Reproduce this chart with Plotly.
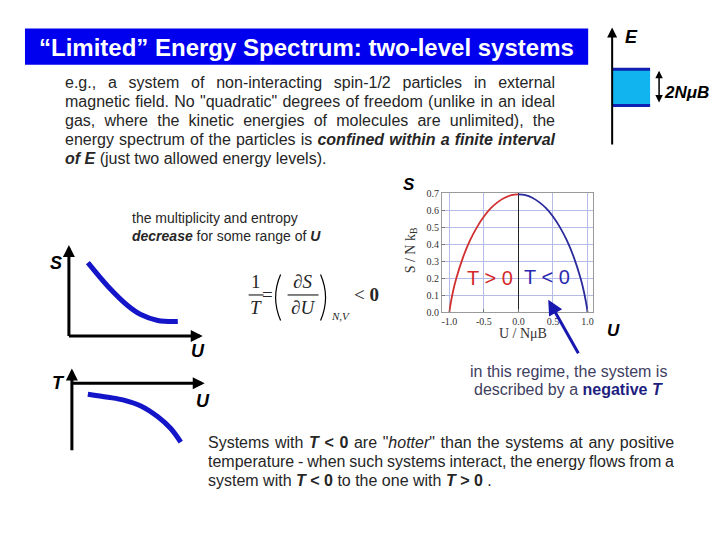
import re
import plotly.graph_objects as go

W, H = 720, 540

# ---------------- data ----------------
entropy_u_pos = [-1.0, -0.99, -0.95, -0.9, -0.8, -0.7, -0.6, -0.5, -0.4, -0.3, -0.2, -0.1, 0.0]
entropy_s_pos = [0.0, 0.031, 0.117, 0.199, 0.325, 0.423, 0.500, 0.562, 0.611, 0.647, 0.673, 0.688, 0.693]
entropy_u_neg = [0.0, 0.1, 0.2, 0.3, 0.4, 0.5, 0.6, 0.7, 0.8, 0.9, 0.95, 0.99, 1.0]
entropy_s_neg = [0.693, 0.688, 0.673, 0.647, 0.611, 0.562, 0.500, 0.423, 0.325, 0.199, 0.117, 0.031, 0.0]

x_tick_vals = [-1.0, -0.5, 0.0, 0.5, 1.0]
x_tick_text = ["-1.0", "-0.5", "0.0", "0.5", "1.0"]
y_tick_vals = [0.0, 0.1, 0.2, 0.3, 0.4, 0.5, 0.6, 0.7]
y_tick_text = ["0.0", "0.1", "0.2", "0.3", "0.4", "0.5", "0.6", "0.7"]

sketch_s_u = [1.43, 2.93, 4.44, 5.41, 6.69, 8.2]
sketch_s_s = [8.24, 5.6, 3.41, 2.42, 1.76, 1.65]

sketch_t_u = [1.21, 2.73, 3.94, 5.23, 6.52, 7.5, 8.26]
sketch_t_t = [-1.07, -1.37, -1.66, -2.24, -3.32, -4.49, -5.85]

title_text = "<b>\u201cLimited\u201d Energy Spectrum: two-level systems</b>"

para1_lines = [
    ("e.g., a system of non-interacting spin-1/2 particles in external", True),
    ("magnetic field. No \"quadratic\" degrees of freedom (unlike in an ideal", True),
    ("gas, where the kinetic energies of molecules are unlimited), the", True),
    ("energy spectrum of the particles is <b><i>confined within a finite interval</i></b>", True),
    ("<b><i>of E</i></b> (just two allowed energy levels).", False),
]
para2_lines = [
    ("Systems with <b><i>T</i> &lt; 0</b> are \"<i>hotter</i>\" than the systems at any positive", True),
    ("temperature - when such systems interact, the energy flows from a", True),
    ("system with <b><i>T</i> &lt; 0</b> to the one with <b><i>T</i> &gt; 0</b> .", False),
]

# ---------------- text width helper (Arial / Liberation Sans metrics) ----------------
REG = {' ': 278, '"': 355, '(': 333, ')': 333, ',': 278, '-': 333, '.': 278, '/': 278,
       ':': 278, '<': 584, '>': 584, '=': 584,
       'A': 667, 'B': 667, 'C': 722, 'D': 722, 'E': 667, 'F': 611, 'G': 778, 'H': 722, 'I': 278,
       'J': 500, 'K': 667, 'L': 556, 'M': 833, 'N': 722, 'O': 778, 'P': 667, 'Q': 778, 'R': 722,
       'S': 667, 'T': 611, 'U': 722, 'V': 667, 'W': 944, 'X': 667, 'Y': 667, 'Z': 611,
       'a': 556, 'b': 556, 'c': 500, 'd': 556, 'e': 556, 'f': 278, 'g': 556, 'h': 556, 'i': 222,
       'j': 222, 'k': 500, 'l': 222, 'm': 833, 'n': 556, 'o': 556, 'p': 556, 'q': 556, 'r': 333,
       's': 500, 't': 278, 'u': 556, 'v': 500, 'w': 722, 'x': 500, 'y': 500, 'z': 500}
BOLD = dict(REG)
BOLD.update({'"': 474, ':': 333, 'A': 722, 'B': 722, 'J': 556, 'K': 722, 'L': 611,
             'b': 611, 'c': 556, 'd': 611, 'f': 333, 'g': 611, 'h': 611, 'i': 278, 'j': 278,
             'k': 556, 'l': 278, 'm': 889, 'n': 611, 'o': 611, 'p': 611, 'q': 611, 'r': 389,
             's': 556, 't': 333, 'u': 611, 'v': 556, 'w': 778, 'x': 556, 'y': 556})


def measure(html, size):
    bold = False
    w = 0
    spaces = 0
    for tok in re.split(r'(<[^<>]*>)', html):
        if tok.startswith('<') and tok.endswith('>') and len(tok) > 2 and tok[1] in 'b/is':
            if tok == '<b>':
                bold = True
            elif tok == '</b>':
                bold = False
            continue
        tok = tok.replace('&lt;', '<').replace('&gt;', '>')
        for ch in tok:
            w += (BOLD if bold else REG).get(ch, 556)
            if ch == ' ':
                spaces += 1
    return w * size / 1000.0, spaces


PIX = dict(xref="x", yref="y")
annotations = []
shapes = []


def add_text(x, y, text, size, color="#262626", family="Liberation Sans, Arial, sans-serif",
             xanchor="center", yanchor="middle", angle=0):
    annotations.append(dict(x=x, y=y, text=text, showarrow=False, xanchor=xanchor,
                            yanchor=yanchor, textangle=angle,
                            font=dict(size=size, color=color, family=family), **PIX))


def add_arrow(x0, y0, x1, y1, color="black", width=2, head=2, size=1.0, side="end"):
    annotations.append(dict(x=x1, y=y1, ax=x0, ay=y0, axref="x", ayref="y", text="",
                            showarrow=True, arrowhead=head, arrowsize=size, arrowwidth=width,
                            arrowcolor=color, arrowside=side, startarrowhead=head,
                            startarrowsize=size, **PIX))


def add_paragraph(lines, x_left, x_right, y_first, dy, size, color):
    target = x_right - x_left
    for i, (txt, justify) in enumerate(lines):
        if justify:
            w, n = measure(txt, size)
            ws = (target - w) / max(n, 1)
            txt = '<span style="word-spacing:%.2fpx">%s</span>' % (ws, txt)
        add_text(x_left, y_first + i * dy, txt, size, color=color, xanchor="left")


# ---------------- title band ----------------
shapes.append(dict(type="rect", x0=24, x1=588, y0=24, y1=61, fillcolor="#0000ee",
                   line=dict(width=0), layer="below", **PIX))
add_text(306, 43, title_text, 24, color="white")

# ---------------- paragraphs ----------------
add_paragraph(para1_lines, 62, 552, 79.5, 19.2, 16, "#262626")
add_paragraph(para2_lines, 205, 671, 446.5, 19.2, 16, "#262626")

# ---------------- energy level diagram ----------------
shapes.append(dict(type="rect", x0=612, x1=650, y0=65, y1=103, fillcolor="#12b4ef",
                   line=dict(width=0), **PIX))
for yy in (65.5, 102.5):
    shapes.append(dict(type="line", x0=612, x1=650, y0=yy, y1=yy,
                       line=dict(color="#1020b0", width=3), **PIX))
add_arrow(612, 144, 612, 23, width=2, head=2, size=1.0)
add_text(631, 33, "<b><i>E</i></b>", 18, color="black")
add_arrow(659, 101, 659, 67, width=1.5, head=2, size=1.0, side="end+start")
add_text(662, 89, "<b><i>2N\u03bcB</i></b>", 17, xanchor="left", color="black")

# ---------------- middle-left text ----------------
add_text(129, 217.5, "the multiplicity and entropy", 14, xanchor="left")
add_text(129, 236, "<b><i>decrease</i></b> for some range of <b><i>U</i></b>", 14, xanchor="left")

# ---------------- sketch axes ----------------
add_arrow(68, 339.5, 68, 245, width=3, head=2, size=0.8)
add_arrow(66.5, 338, 202, 338, width=3, head=2, size=0.8)
add_text(55, 263, "<b><i>S</i></b>", 18, color="black")
add_text(197, 353, "<b><i>U</i></b>", 18, color="black")

add_arrow(71, 456, 71, 371, width=3, head=2, size=0.8)
add_arrow(69.5, 386, 204, 386, width=3, head=2, size=0.8)
add_text(58, 386, "<b><i>T</i></b>", 18, color="black")
add_text(202, 404, "<b><i>U</i></b>", 18, color="black")

# ---------------- formula 1/T = (dS/dU)_{N,V} < 0 ----------------
SERIF = "Liberation Serif, Times New Roman, serif"
add_text(255, 282, "1", 19, family=SERIF)
shapes.append(dict(type="line", x0=248, x1=263, y0=296, y1=296, line=dict(color="black", width=1), **PIX))
add_text(255, 309, "<i>T</i>", 19, family=SERIF)
add_text(267, 296, "=", 19, family=SERIF)
shapes.append(dict(type="path", path="M 280 275 Q 270 298.5 280 322",
                   line=dict(color="black", width=1.2), **PIX))
add_text(302, 282, "\u2202<i>S</i>", 19, family=SERIF)
shapes.append(dict(type="line", x0=287, x1=318, y0=296, y1=296, line=dict(color="black", width=1), **PIX))
add_text(302, 309, "\u2202<i>U</i>", 19, family=SERIF)
shapes.append(dict(type="path", path="M 320 275 Q 330 298.5 320 322",
                   line=dict(color="black", width=1.2), **PIX))
add_text(340, 317, "<i>N,V</i>", 11, family=SERIF)
add_text(366, 296, "&lt; <b>0</b>", 19, family=SERIF)

# ---------------- central entropy plot decorations ----------------
add_text(409, 183, "<b><i>S</i></b>", 17, color="black")
add_text(613, 332, "<b><i>U</i></b>", 17, color="black")
add_text(523, 335, "U / N\u03bcB", 14, family=SERIF, color="#333333")
add_text(411, 250, "S / N k<sub>B</sub>", 14, family=SERIF, color="#333333", angle=-90)
add_text(489.5, 279, "T &gt; 0", 20, color="#d42a2a")
add_text(547, 278, "T &lt; 0", 20, color="#2a2ab0")
add_arrow(579, 357, 548, 301, color="#1818b0", width=3, head=2, size=1.0)

# regime text
add_text(568, 374, "in this regime, the system is", 16, color="#404060")
add_text(568, 393, "described by a <b><span style=\"color:#1e1e80\">negative <i>T</i></span></b>", 16,
         color="#404060")

# ---------------- figure ----------------
fig = go.Figure()
fig.add_trace(go.Scatter(x=[0], y=[0], mode="markers", marker=dict(opacity=0),
                         hoverinfo="skip", showlegend=False, xaxis="x", yaxis="y"))
fig.add_trace(go.Scatter(x=entropy_u_pos, y=entropy_s_pos, mode="lines", line_shape="spline",
                         line=dict(color="#d03030", width=1.8), xaxis="x2", yaxis="y2",
                         showlegend=False, hoverinfo="skip"))
fig.add_trace(go.Scatter(x=entropy_u_neg, y=entropy_s_neg, mode="lines", line_shape="spline",
                         line=dict(color="#2a2a9c", width=1.8), xaxis="x2", yaxis="y2",
                         showlegend=False, hoverinfo="skip"))
fig.add_trace(go.Scatter(x=sketch_s_u, y=sketch_s_s, mode="lines", line_shape="spline",
                         line=dict(color="#1414c8", width=5), xaxis="x3", yaxis="y3",
                         showlegend=False, hoverinfo="skip"))
fig.add_trace(go.Scatter(x=sketch_t_u, y=sketch_t_t, mode="lines", line_shape="spline",
                         line=dict(color="#1414c8", width=5), xaxis="x4", yaxis="y4",
                         showlegend=False, hoverinfo="skip"))

tickfont = dict(family=SERIF, size=10, color="#333333")
fig.update_layout(
    width=W, height=H, margin=dict(l=0, r=0, t=0, b=0),
    paper_bgcolor="white", plot_bgcolor="rgba(0,0,0,0)",
    xaxis=dict(range=[0, W], domain=[0, 1], visible=False, fixedrange=True),
    yaxis=dict(range=[H, 0], domain=[0, 1], visible=False, fixedrange=True),
    xaxis2=dict(domain=[441.7 / W, 593.3 / W], range=[-1.106, 1.087], anchor="y2",
                tickvals=x_tick_vals, ticktext=x_tick_text, tickfont=tickfont,
                showgrid=True, gridcolor="#b4bce6", gridwidth=1,
                zeroline=True, zerolinecolor="#222222", zerolinewidth=1,
                showline=True, mirror=True, linecolor="#9a9a9a", linewidth=1,
                ticks="inside", ticklen=3, tickcolor="#777777", ticklabelstandoff=0),
    yaxis2=dict(domain=[1 - 313.5 / H, 1 - 191.5 / H], range=[0, 0.703], anchor="x2",
                tickvals=y_tick_vals, ticktext=y_tick_text, tickfont=tickfont,
                showgrid=True, gridcolor="#b4bce6", gridwidth=1, zeroline=False,
                showline=True, mirror=True, linecolor="#9a9a9a", linewidth=1,
                ticks="inside", ticklen=3, tickcolor="#777777"),
    xaxis3=dict(domain=[68 / W, 201 / W], range=[0, 10], visible=False, anchor="y3"),
    yaxis3=dict(domain=[1 - 338 / H, 1 - 247 / H], range=[0, 10], visible=False, anchor="x3"),
    xaxis4=dict(domain=[71 / W, 203 / W], range=[0, 10], visible=False, anchor="y4"),
    yaxis4=dict(domain=[1 - 455 / H, 1 - 373 / H], range=[-6.7, 1.3], visible=False, anchor="x4"),
    annotations=annotations,
    shapes=shapes,
    showlegend=False,
)

fig.write_html("out.html", config=dict(displayModeBar=False, staticPlot=True),
               post_script="document.body.style.margin='0';document.body.style.overflow='hidden';")
